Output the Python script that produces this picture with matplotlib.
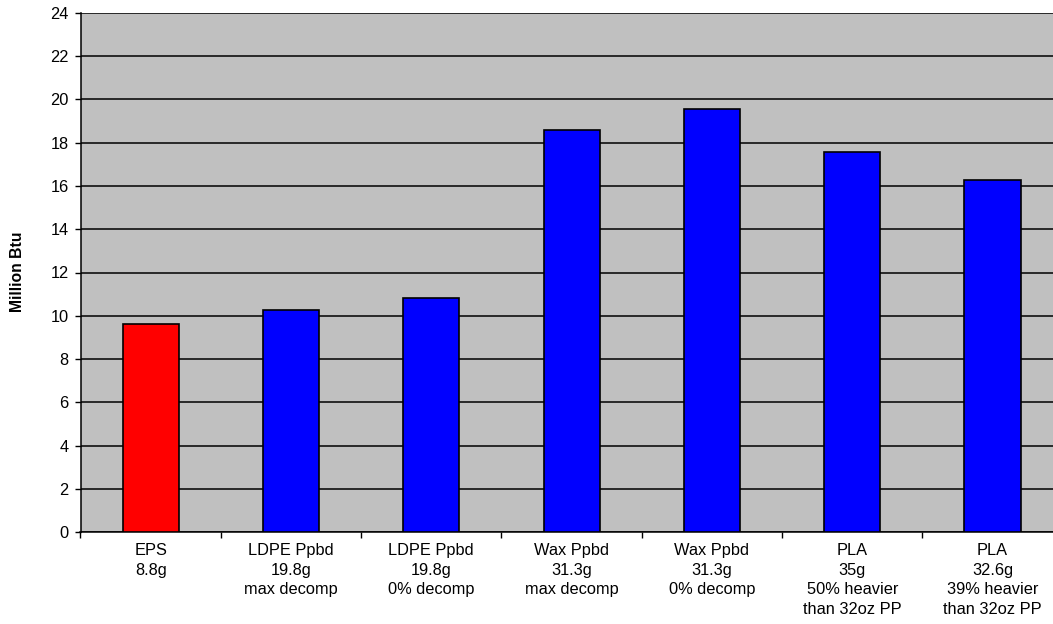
import matplotlib
matplotlib.use("Agg")
import matplotlib.pyplot as plt
import numpy as np

categories = ["EPS\n8.8g", "LDPE Ppbd\n19.8g\nmax decomp", "LDPE Ppbd\n19.8g\n0% decomp",
              "Wax Ppbd\n31.3g\nmax decomp", "Wax Ppbd\n31.3g\n0% decomp",
              "PLA\n35g\n50% heavier\nthan 32oz PP", "PLA\n32.6g\n39% heavier\nthan 32oz PP"]
values = [9.62, 10.28, 10.8, 18.57, 19.53, 17.55, 16.25]
colors = ["#ff0000", "#0000ff", "#0000ff", "#0000ff", "#0000ff", "#0000ff", "#0000ff"]
yticks = list(range(0, 25, 2))

plt.rcParams['font.family'] = ['Liberation Sans', 'DejaVu Sans']
W, H = 1053, 624
fig = plt.figure(figsize=(W/100, H/100), dpi=100)
left, right, top, bottom = 80.5, 1062.7, 12.7, 532.3
ax = fig.add_axes([left/W, 1-bottom/H, (right-left)/W, (bottom-top)/H])
ax.set_facecolor("#c0c0c0")
x = np.arange(len(categories))
ax.bar(x, values, width=0.40, color=colors, edgecolor="black", linewidth=1.2, zorder=3)
ax.set_xlim(-0.5, len(categories)-0.5)
ax.set_ylim(0, 24)
ax.set_yticks(yticks)
ax.set_yticklabels([str(t) for t in yticks], fontsize=11.8)
ax.yaxis.grid(True, color="black", linewidth=1.1, zorder=0)
ax.set_axisbelow(True)
ax.set_xticks(x)
ax.set_xticklabels(categories, fontsize=11.8, linespacing=1.40)
ax.tick_params(axis='x', which='major', length=0, pad=7.5)
ax.set_xticks(np.arange(-0.5, len(categories)+0.5, 1.0), minor=True)
ax.tick_params(axis='x', which='minor', length=4, direction='out', color='black', width=1)
ax.tick_params(axis='y', length=4, direction='out', color='black', pad=4.5, width=1)
for s in ['top', 'right']:
    ax.spines[s].set_visible(False)
ax.spines['left'].set_color('black')
ax.spines['bottom'].set_color('black')
ax.spines['left'].set_linewidth(1.1)
ax.spines['bottom'].set_linewidth(1.1)
fig.text(18/W, 1-272/H, "Million Btu", rotation=90, ha='center', va='center',
         fontsize=11.3, fontweight='bold')
fig.savefig("out.png", dpi=100)
